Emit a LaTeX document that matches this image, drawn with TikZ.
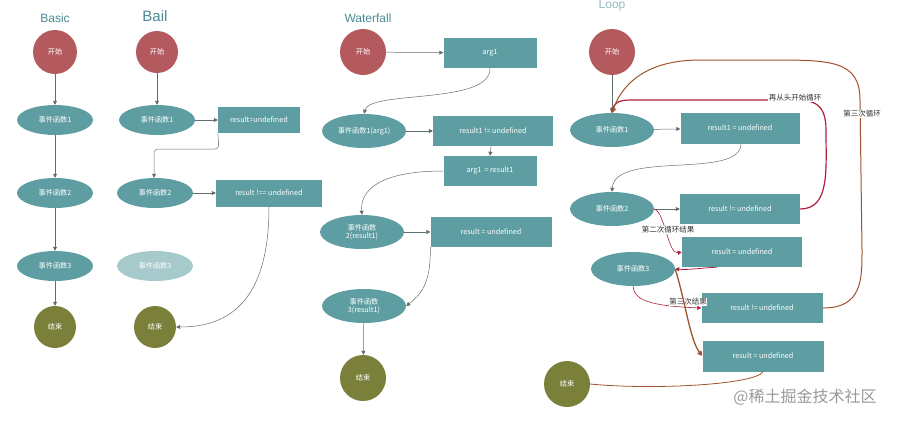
\documentclass[tikz,border=0pt]{standalone}
\usepackage{fontspec}
\setmainfont{Noto Sans CJK SC}
\newfontfamily\titlefont{Liberation Sans}
\usetikzlibrary{arrows.meta,shapes.geometric}
\definecolor{teal1}{HTML}{5E9EA2}
\definecolor{redc}{HTML}{B45A5E}
\definecolor{olive1}{HTML}{7A7F3A}
\definecolor{arr}{HTML}{5F6F70}
\definecolor{ttl}{HTML}{4A8A95}
\definecolor{loopred}{HTML}{B0203A}
\definecolor{brown1}{HTML}{A0522D}
\begin{document}
\begin{tikzpicture}[x=1pt,y=-1pt,
 every node/.style={font=\fontsize{7.2}{8.5}\selectfont,text=white,align=center},
 start/.style={circle,fill=redc,minimum size=44pt,inner sep=0},
 finish/.style={circle,fill=olive1,minimum size=44pt,inner sep=0},
 ev/.style={ellipse,fill=teal1,minimum width=76pt,minimum height=30pt,inner sep=0},
 evb/.style={ellipse,fill=teal1,minimum width=84pt,minimum height=34pt,inner sep=0},
 box/.style={rectangle,fill=teal1,minimum height=28pt,inner sep=1pt},
 title/.style={text=ttl,font=\titlefont\fontsize{12}{13}\selectfont},
 a/.style={draw=arr,-{Triangle[length=4pt,width=4pt]},line width=0.5pt},
 lbl/.style={text=black!80,font=\fontsize{7.5}{8.5}\selectfont,fill=white,inner sep=0.5pt}]
\useasboundingbox (0,0) rectangle (900,421);
% Basic
\node[title] (t1) at (55,18) {Basic};
\node[start] (s1) at (55,52) {开始};
\node[ev] (b1) at (55,120) {事件函数1};
\node[ev] (b2) at (55,193) {事件函数2};
\node[ev] (b3) at (55,266) {事件函数3};
\node[finish,minimum size=42pt] (f1) at (55,327) {结束};
\draw[a] (s1)--(b1); \draw[a] (b1)--(b2); \draw[a] (b2)--(b3); \draw[a] (b3)--(f1);
% Bail
\node[title,font=\titlefont\fontsize{15}{16}\selectfont] (t2) at (155,16) {Bail};
\node[start,minimum size=42pt] (s2) at (157,52) {开始};
\node[ev] (c1) at (157,120) {事件函数1};
\node[box,minimum width=82pt,minimum height=26pt] (cb1) at (259,120) {result=undefined};
\node[ev] (c2) at (155,193) {事件函数2};
\node[box,minimum width=106pt,minimum height=27pt] (cb2) at (269,193) {result !== undefined};
\node[ev,fill=teal1!55] (c3) at (155,266) {事件函数3};
\node[finish,minimum size=42pt] (f2) at (155,327) {结束};
\draw[a] (s2)--(c1); \draw[a] (c1)--(cb1);
\draw[a,rounded corners=4pt] (cb1.south west) -- (219,149) -- (154,149) -- (c2.north -| 154,0);
\draw[a] (c2)--(cb2);
\draw[a] (cb2.south) .. controls (269,300) and (230,327) .. (f2.east);
% Waterfall
\node[title] (t3) at (368,18) {Waterfall};
\node[start,minimum size=46pt] (s3) at (363,52) {开始};
\node[box,minimum width=93pt,minimum height=30pt] (w0) at (490,53) {arg1};
\node[evb] (w1) at (364,131) {事件函数1(arg1)};
\node[box,minimum width=120pt,minimum height=30pt] (wb1) at (493,131) {result1 != undefined};
\node[box,minimum width=93pt,minimum height=30pt] (wb2) at (490,171) {arg1 \ = result1};
\node[evb] (w2) at (362,232) {事件函数\\2(result1)};
\node[box,minimum width=121pt,minimum height=30pt] (wb3) at (491,232) {result = undefined};
\node[evb] (w3) at (364,306) {事件函数\\3(result1)};
\node[finish,minimum size=46pt] (f3) at (363,378) {结束};
\draw[a] (s3)--(w0);
\draw[a] (w0.south) .. controls (491,105) and (370,90) .. (w1.north);
\draw[a] (w1)--(wb1);
\draw[a] (wb1.south -| 491,0) -- (wb2.north);
\draw[a] (wb2.west) .. controls (380,171) and (360,190) .. (w2.north);
\draw[a] (w2)--(wb3);
\draw[a] (wb3.south west) .. controls (431,285) and (420,295) .. (w3.east);
\draw[a] (w3)--(f3);
% Loop
\node[title,text=ttl!60] (t4) at (612,6) {Loop};
\node[start,minimum size=46pt] (s4) at (612,52) {开始};
\node[evb] (l1) at (612,130) {事件函数1};
\node[box,minimum width=119pt,minimum height=31pt] (lb1) at (740,128) {result1 = undefined};
\node[evb] (l2) at (612,209) {事件函数2};
\node[box,minimum width=120pt,minimum height=30pt] (lb2) at (740,209) {result != undefined};
\node[box,minimum width=120pt,minimum height=30pt] (lb3) at (742,252) {result = undefined};
\node[evb] (l3) at (633,269) {事件函数3};
\node[box,minimum width=121pt,minimum height=30pt] (lb4) at (762,308) {result != undefined};
\node[box,minimum width=121pt,minimum height=31pt] (lb5) at (763,356) {result = undefined};
\node[finish,minimum size=46pt] (f4) at (567,384) {结束};
\draw[a] (s4)--(l1);
\draw[a] (l1)--(lb1);
\draw[a] (lb1.south -| 741,0) .. controls (741,180) and (615,150) .. (l2.north);
\draw[a] (l2)--(lb2);
\draw[draw=loopred,line width=1.2pt,-{Triangle[length=5pt,width=5pt]}] (lb2.east) .. controls (830,209) and (826,170) .. (826,130) .. controls (826,100) and (810,100) .. (790,100) -- (630,100) .. controls (618,100) and (614,104) .. (612,113);
\node[lbl] (lab1) at (795,98) {再从头开始循环};
\draw[draw=brown1,line width=1pt,-{Triangle[length=5pt,width=5pt]}] (lb4.east) .. controls (862,308) and (862,280) .. (862,250) -- (860,100) .. controls (860,60) and (830,60) .. (770,60) -- (700,60) .. controls (640,60) and (620,90) .. (612,113);
\node[lbl] (lab2) at (862,114) {第三次循环};
\draw[draw=loopred,line width=0.6pt,-{Triangle[length=4pt,width=4pt]}] (l2.east) .. controls (665,212) and (668,255) .. (lb3.west);
\node[lbl] (lab3) at (668,230) {第二次循环结果};
\draw[draw=loopred,line width=0.8pt,-{Triangle[length=4pt,width=4pt]}] (lb3.south west) ++(35,0) .. controls (700,268) and (690,270) .. (l3.east);
\draw[draw=loopred,line width=0.6pt,-{Triangle[length=4pt,width=4pt]}] (l3.south) .. controls (634,300) and (650,306) .. (lb4.west);
\node[lbl] (lab4) at (688,302) {第三次结果};
\draw[draw=brown1,line width=1.3pt,-{Triangle[length=5pt,width=5pt]}] (l3.east) .. controls (685,300) and (690,340) .. (lb5.west);
\draw[draw=brown1,line width=0.8pt] (lb5.south) .. controls (755,385) and (650,390) .. (f4.east);
\node[text=black!40,font=\fontsize{16}{18}\selectfont] (wm) at (805,397) {@稀土掘金技术社区};
\end{tikzpicture}
\end{document}
